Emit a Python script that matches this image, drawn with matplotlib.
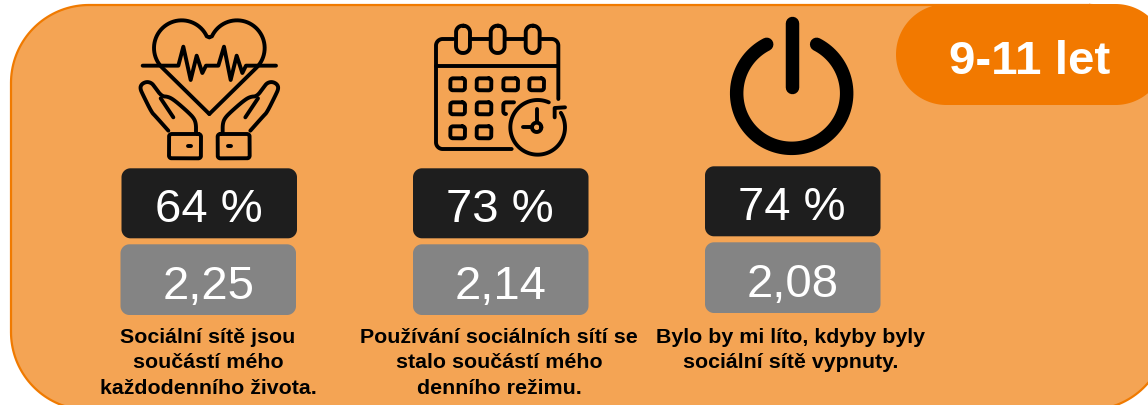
import matplotlib
matplotlib.use("Agg")
import matplotlib.pyplot as plt
import numpy as np
from matplotlib.patches import Polygon

plt.rcParams['font.family'] = ['Liberation Sans', 'DejaVu Sans']

# values
percent_values = [64, 73, 74]
mean_values = ['2,25', '2,14', '2,08']
captions = [['Sociální sítě jsou', 'součástí mého', 'každodenního života.'],
            ['Používání sociálních sítí se', 'stalo součástí mého', 'denního režimu.'],
            ['Bylo by mi líto, kdyby byly', 'sociální sítě vypnuty.']]
badge_label = '9-11 let'

box_left = [121.5, 413, 705]
box_top = [169, 169, 167]
grey_left = [120.5, 413, 705]
grey_top = [245, 245, 243]
caption_x = [208, 499, 791]

fig = plt.figure(figsize=(11.48, 4.06), dpi=100, facecolor='white')
ax = fig.add_axes([0, 0, 1, 1])
ax.set_xlim(0, 1148)
ax.set_ylim(406, 0)
ax.axis('off')


def arc(cx, cy, r, a0, a1, n=40):
    t = np.radians(np.linspace(a0, a1, n))
    return np.c_[cx + r * np.cos(t), cy - r * np.sin(t)]


def rpath(x0, y0, x1, y1, r):
    # closed outline with true circular corners
    return np.r_[arc(x1 - r, y0 + r, r, 90, 0), arc(x1 - r, y1 - r, r, 0, -90),
                 arc(x0 + r, y1 - r, r, 270, 180), arc(x0 + r, y0 + r, r, 180, 90),
                 arc(x1 - r, y0 + r, r, 90, 89, 2)]


def rbox(x0, y0, x1, y1, r, fc, ec='none', lw=0, z=2):
    ax.add_patch(Polygon(rpath(x0, y0, x1, y1, r), closed=True, fc=fc, ec=ec, lw=lw, zorder=z))


def icon_line(pts, ox, oy, lw=2.8, color='black'):
    # pts are in crop coordinates (3x) of the icon
    pts = np.array(pts, dtype=float)
    ax.plot(ox + pts[:, 0] / 3, oy + pts[:, 1] / 3, color=color, lw=lw,
            solid_capstyle='round', solid_joinstyle='round', zorder=5)


def smooth(pts, it=2):
    # corner cutting, keeps the ends
    pts = np.array(pts, dtype=float)
    for _ in range(it):
        q = [pts[0]]
        for a, b in zip(pts[:-1], pts[1:]):
            q.append(a * 0.75 + b * 0.25)
            q.append(a * 0.25 + b * 0.75)
        q.append(pts[-1])
        pts = np.array(q)
    return pts


# background panel and badge
rbox(11, 6, 1167, 411, 78, '#F4A454', ec='#F07A00', lw=1.6, z=1)
rbox(896, 5, 1166, 106, 50.5, '#F27900', z=3)
ax.text(1030, 74, badge_label, color='white', fontsize=34.2, fontweight='bold',
        ha='center', va='baseline', zorder=4)

# boxes and texts
for i in range(3):
    rbox(box_left[i], box_top[i] + 0.3, box_left[i] + 175.5, box_top[i] + 70.3, 9, '#1E1E1E')
    rbox(grey_left[i], grey_top[i] + 0.3, grey_left[i] + 175.5, grey_top[i] + 71, 9, '#848484')
    ax.text(box_left[i] + 87, box_top[i] + 53.5, f'{percent_values[i]} %', color='white',
            fontsize=34, ha='center', va='baseline', zorder=4)
    ax.text(grey_left[i] + 88, grey_top[i] + 54.5, mean_values[i], color='white',
            fontsize=34, ha='center', va='baseline', zorder=4)
    for j, line in enumerate(captions[i]):
        ax.text(caption_x[i], 343 + j * 25.5, line, color='black', fontsize=15.4, fontweight='bold',
                ha='center', va='baseline', zorder=4)

# heart icon
ox, oy = 120, 0
heart = np.r_[[(268, 345)], arc(185, 147, 83, 225, 25), [(268, 115)]]
icon_line(heart, ox, oy)
icon_line(np.c_[536 - heart[:, 0], heart[:, 1]], ox, oy)
icon_line([(68, 200), (175, 200), (190, 143), (212, 243), (230, 170), (247, 222), (258, 200),
           (295, 200), (312, 143), (332, 243), (350, 170), (367, 222), (378, 200), (468, 200)], ox, oy)
hand = smooth([(228, 400), (228, 375), (222, 358), (205, 340), (165, 305), (145, 293), (125, 292),
               (105, 265), (95, 252), (80, 248), (65, 255), (60, 268), (70, 290), (95, 340),
               (105, 350), (145, 395)])
thumb = np.array([(122, 298), (160, 355)], dtype=float)
cuff = rpath(147, 405, 243, 478, 8)
for flip in (False, True):
    for part in (hand, thumb, cuff):
        p = part.copy()
        if flip:
            p[:, 0] = 536 - p[:, 0]
        icon_line(p, ox, oy)
    dot_x = 328 if flip else 208
    icon_line([(dot_x - 4, 440), (dot_x + 4, 440)], ox, oy)

# calendar icon
ox, oy = 420, 15
icon_line(np.r_[[(100, 75)], arc(68, 95, 20, 90, 180), arc(68, 385, 20, 180, 270), [(275, 405)]], ox, oy)
icon_line(np.r_[[(365, 75)], arc(395, 95, 20, 90, 0), [(415, 255)]], ox, oy)
icon_line([(150, 75), (210, 75)], ox, oy)
icon_line([(255, 75), (315, 75)], ox, oy)
icon_line([(48, 155), (415, 155)], ox, oy)
for cx in (129, 233, 338):
    icon_line(rpath(cx - 21, 35, cx + 21, 117, 20), ox, oy)
for cx, cy in [(113, 211), (192, 211), (272, 211), (350, 211), (113, 283), (192, 283), (113, 355), (192, 355)]:
    icon_line(rpath(cx - 22, cy - 18, cx + 22, cy + 18, 8), ox, oy)
icon_line(np.r_[[(282, 265)], arc(258, 273, 8, 90, 180), arc(258, 292, 8, 180, 270)], ox, oy)
icon_line(arc(353, 340, 82, 66, 392, 120), ox, oy)
icon_line([(404, 310), (404, 282), (435, 280)], ox, oy)
icon_line([(350, 285), (350, 325)], ox, oy)
icon_line([(310, 340), (335, 340)], ox, oy)
icon_line(arc(350, 340, 14, 0, 360), ox, oy)

# power icon
ox, oy = 700, 0
icon_line(arc(275, 283, 165, 63, -243, 120), ox, oy, lw=9.7)
icon_line([(275, 72), (275, 265)], ox, oy, lw=9.7)

fig.savefig('out.png', dpi=100, facecolor='white')
